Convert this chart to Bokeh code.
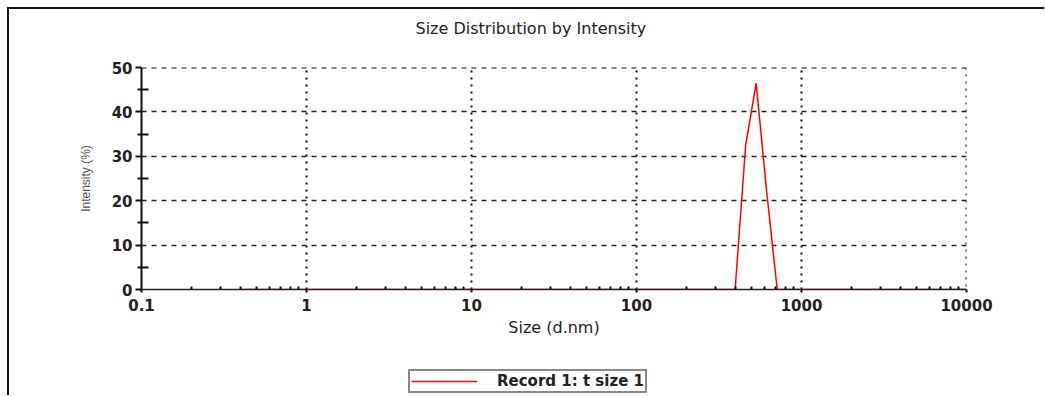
from bokeh.plotting import figure
from bokeh.layouts import column
from bokeh.models import FixedTicker, PrintfTickFormatter, Legend, LegendItem, Range1d, Span, Title
from bokeh.embed import file_html
from bokeh.resources import INLINE

# ---- data ----
size_nm = [0.4, 396.1, 458.7, 531.2, 615.1, 712.4, 10000]
intensity = [0, 0, 32.5, 46.5, 22.0, 0, 0]
x_ticks = [0.1, 1, 10, 100, 1000, 10000]
x_minor = [m * d for d in [0.1, 1, 10, 100, 1000] for m in range(2, 10)]
y_ticks = [0, 10, 20, 30, 40, 50]
y_minor = [5, 15, 25, 35, 45]
title_text = "Size Distribution by Intensity"
x_label = "Size (d.nm)"
y_label = "Intensity (%)"
series_name = "Record 1: t size 1"

LINE_COLOR = "#ff0000"

p = figure(width=1035, height=358, x_axis_type="log",
           x_range=Range1d(0.1, 10000), y_range=Range1d(0, 50),
           output_backend="svg", toolbar_location=None,
           min_border_left=132, min_border_right=78,
           min_border_top=58, min_border_bottom=78)
p.outline_line_color = None
p.background_fill_color = "white"
p.border_fill_color = "white"

# spacer between frame and title (title stacks outside it)
p.add_layout(Title(text=" ", text_font_size="1px", standoff=27), "above")

p.title.text = title_text
p.title.align = "left"
p.title.offset = 274
p.title.vertical_align = "bottom"
p.title.standoff = 0
p.title.text_font = "DejaVu Sans"
p.title.text_font_size = "16px"
p.title.text_font_style = "normal"
p.title.text_color = "#222222"

p.line(size_nm, intensity, line_color=LINE_COLOR, line_width=1.5)

# axes
xa = p.xaxis[0]
xa.ticker = FixedTicker(ticks=x_ticks, minor_ticks=x_minor)
xa.formatter = PrintfTickFormatter(format="%g")
xa.axis_line_color = "#222222"
xa.axis_line_width = 1.5
xa.major_tick_out = 3
xa.major_tick_in = 0
xa.minor_tick_in = 3
xa.minor_tick_out = 0
xa.major_tick_line_color = "#111111"
xa.minor_tick_line_color = "#111111"
xa.major_tick_line_width = 2
xa.minor_tick_line_width = 2
xa.major_label_standoff = 6
xa.major_label_text_font = "DejaVu Sans"
xa.major_label_text_font_size = "15px"
xa.major_label_text_font_style = "bold"
xa.major_label_text_color = "#222222"
xa.axis_label = x_label
xa.axis_label_standoff = 4
xa.axis_label_text_font = "DejaVu Sans"
xa.axis_label_text_font_size = "16px"
xa.axis_label_text_font_style = "normal"
xa.axis_label_text_color = "#222222"

ya = p.yaxis[0]
ya.ticker = FixedTicker(ticks=y_ticks, minor_ticks=y_minor)
ya.axis_line_color = "#111111"
ya.axis_line_width = 2
ya.major_tick_out = 6
ya.major_tick_in = 0
ya.minor_tick_out = 4
ya.minor_tick_in = 7
ya.major_tick_line_color = "#111111"
ya.minor_tick_line_color = "#111111"
ya.major_tick_line_width = 2
ya.minor_tick_line_width = 2
ya.major_label_standoff = 3
ya.major_label_text_font = "DejaVu Sans"
ya.major_label_text_font_size = "15px"
ya.major_label_text_font_style = "bold"
ya.major_label_text_color = "#222222"
ya.axis_label = y_label
ya.axis_label_standoff = 16
ya.axis_label_text_font = "Liberation Sans"
ya.axis_label_text_font_size = "12px"
ya.axis_label_text_font_style = "normal"
ya.axis_label_text_color = "#555555"

# grids
p.xgrid.ticker = FixedTicker(ticks=x_ticks)
p.xgrid.grid_line_color = "#111111"
p.xgrid.grid_line_width = 2
p.xgrid.grid_line_dash = "2 5"
p.ygrid.ticker = FixedTicker(ticks=y_ticks)
p.ygrid.grid_line_color = "#222222"
p.ygrid.grid_line_width = 1.5
p.ygrid.grid_line_dash = "5 5"
# grid lines on the upper/right range edges
p.add_layout(Span(location=y_ticks[-1], dimension="width", line_color="#111111",
                  line_width=2, line_dash="5 5"))
p.add_layout(Span(location=x_ticks[-1], dimension="height", line_color="#000000",
                  line_width=2, line_dash="2 5"))

# ---- legend strip below the chart ----
lf = figure(width=1035, height=28, x_range=Range1d(0, 1), y_range=Range1d(0, 1),
            output_backend="svg", toolbar_location=None,
            x_axis_location=None, y_axis_location=None,
            min_border=0, min_border_left=0, min_border_right=0,
            min_border_top=0, min_border_bottom=0)
lf.outline_line_color = None
lf.grid.visible = False
lf.border_fill_color = "white"
# single-point line: draws nothing itself, only provides the legend swatch
swatch = lf.line(x=size_nm[:1], y=intensity[:1], line_color=LINE_COLOR, line_width=1.5)

legend = Legend(items=[LegendItem(label=series_name, renderers=[swatch])],
                location=(267, 2), orientation="horizontal")
legend.border_line_color = "#111111"
legend.border_line_width = 2
legend.background_fill_alpha = 1
legend.padding = 1
legend.margin = 0
legend.spacing = 0
legend.glyph_width = 66
legend.glyph_height = 12
legend.label_height = 12
legend.label_standoff = 20
legend.label_text_font = "DejaVu Sans"
legend.label_text_font_size = "15px"
legend.label_text_font_style = "bold"
legend.label_text_color = "#222222"
lf.add_layout(legend, "center")

layout = column(p, lf, spacing=0)
layout.styles = {"border-left": "2px solid #111", "border-top": "2px solid #111",
                 "margin-left": "7px", "margin-top": "7px"}

open("out.html", "w").write(file_html(layout, INLINE))
